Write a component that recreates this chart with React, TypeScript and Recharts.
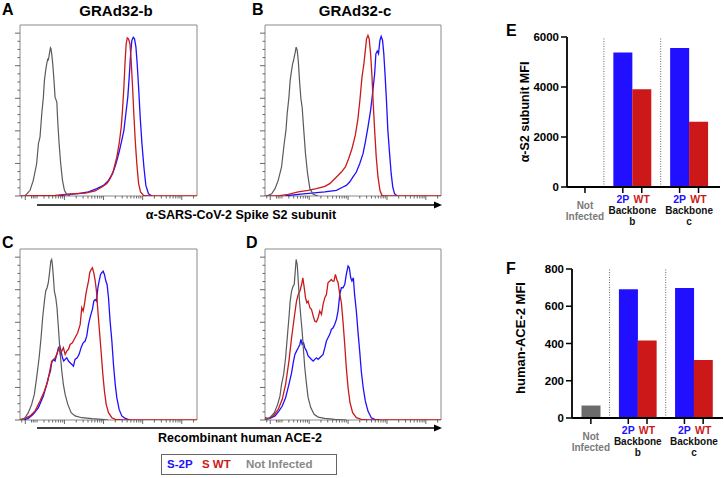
import React from "react";
import {
  LineChart,
  Line,
  XAxis,
  YAxis,
  ReferenceArea,
  ReferenceLine,
  BarChart,
  Bar,
  Cell
} from "recharts";

type Pair = [number, number];

// x = position on the log fluorescence axis (0-100), y = % of max
// A: GRAd32-b, anti-S2
const s2bS2P: Pair[] = [[21.7,0],[27.4,1.0],[33.0,1.4],[38.7,2.5],[43.4,4.5],[47.2,6.5],[50.0,9.6],[52.3,13.7],[54.2,19.8],[56.0,27.0],[57.5,34.2],[58.7,40.3],[59.8,50.5],[60.9,60.7],[61.7,73.0],[62.5,87.3],[63.2,95.5],[64.0,97.5],[64.7,96.5],[65.5,91.4],[66.2,81.2],[67.0,66.9],[67.9,48.5],[68.9,32.1],[70.0,17.8],[71.1,6.5],[72.6,1.4],[74.5,0]];
const s2bSWT: Pair[] = [[0,0],[19.8,0.4],[25.5,1.0],[31.1,1.4],[36.8,1.8],[42.5,3.1],[46.2,5.5],[49.1,7.6],[50.9,10.6],[52.8,15.7],[54.7,23.9],[56.0,32.1],[57.2,42.3],[57.9,52.6],[58.7,66.9],[59.4,83.2],[60.0,93.5],[60.6,97.1],[61.3,96.5],[62.1,93.5],[62.8,83.2],[63.6,66.9],[64.3,50.5],[65.1,34.2],[66.0,19.8],[67.0,7.6],[68.1,2.5],[69.8,0.4],[72.6,0],[100,0]];
const s2bNoInf: Pair[] = [[2.8,0],[5.7,3.5],[7.5,9.6],[9.4,19.8],[10.4,32.1],[11.3,36.2],[12.3,50.5],[13.2,60.7],[13.8,71],[14.5,77.1],[15.1,81.2],[15.7,84.3],[16.0,83.2],[16.6,87.3],[17.2,91],[17.5,90.4],[17.9,87.3],[18.5,81.2],[19.2,71],[19.8,60.7],[20.8,57.7],[21.3,46.4],[22.1,32.1],[23.0,19.8],[24.0,9.6],[25.1,3.5],[26.4,1],[28.3,0]];

// B: GRAd32-c, anti-S2
const s2cS2P: Pair[] = [[11.3,0],[18.9,1.0],[26.4,1.8],[34.0,2.5],[40.6,3.5],[44.3,5.5],[46.2,6.5],[48.1,8.6],[50.0,11.7],[51.9,14.7],[53.8,19.8],[55.7,26.0],[57.0,33.1],[58.5,42.3],[60.0,52.6],[61.1,62.8],[62.3,75.1],[63.0,87.3],[63.8,89.0],[64.5,87.3],[65.3,95.5],[66.0,98.0],[66.8,95.5],[67.5,87.3],[68.3,73.0],[69.1,56.6],[69.8,40.3],[70.8,26.0],[71.7,13.7],[72.6,5.5],[73.6,1.4],[75.1,0]];
const s2cSWT: Pair[] = [[0,0],[7.5,0],[13.2,1.0],[18.9,2.5],[24.5,3.5],[29.2,4.5],[34.0,5.9],[36.8,7.6],[40.6,11.7],[43.4,14.7],[45.7,17.8],[47.5,22.9],[49.4,29.0],[51.3,37.2],[52.8,47.4],[54.0,59.7],[55.1,73.0],[56.2,81.2],[57.0,89.4],[57.7,96.5],[58.5,98.6],[59.2,96.5],[60.0,87.3],[60.8,73.0],[61.5,56.6],[62.3,40.3],[63.2,23.9],[64.2,11.7],[65.3,3.5],[66.4,0.4],[67.9,0],[100,0]];
const s2cNoInf: Pair[] = [[0.9,0],[3.8,1.4],[5.7,4.5],[7.5,9.6],[9.4,17.8],[10.9,32.1],[11.9,40.3],[12.6,50.5],[13.6,60.7],[14.3,71.0],[15.1,77.1],[15.7,81.2],[16.2,83.2],[16.6,85.3],[17.2,88.3],[17.7,91.4],[18.3,89.4],[18.9,83.2],[19.6,71.0],[20.4,59.7],[21.1,54.6],[21.9,42.3],[23.0,26.0],[24.2,13.7],[25.5,4.5],[27.4,1.0],[30.2,0]];

// C: GRAd32-b, recombinant ACE-2
const acebS2P: Pair[] = [[1.9,0],[4.7,1.0],[7.5,3.5],[10.4,7.6],[13.2,14.7],[15.1,21.9],[16.0,26.0],[17.2,30.1],[17.9,35.2],[18.9,37.2],[19.8,36.2],[20.8,40.3],[21.7,44.4],[22.5,45.4],[23.2,42.3],[24.0,38.2],[24.7,36.2],[25.5,37.2],[26.4,38.2],[27.4,36.2],[28.3,35.2],[29.2,34.2],[30.2,33.1],[31.1,37.2],[32.3,38.2],[33.4,40.3],[34.5,44.4],[35.7,47.4],[36.8,48.5],[37.7,51.5],[38.7,58.7],[39.8,63.8],[40.9,67.9],[41.7,73.0],[42.5,74.0],[43.2,73.0],[44.0,81.2],[44.7,85.3],[45.5,89.4],[46.2,90.4],[47.0,91.4],[47.7,89.4],[48.5,85.3],[49.2,83.2],[50.0,75.1],[50.9,60.7],[51.9,48.5],[52.8,34.2],[53.8,21.9],[54.7,13.7],[56.0,6.5],[57.5,2.5],[59.4,1.0],[62.3,0]];
const acebSWT: Pair[] = [[0,0.4],[2.8,1.0],[5.7,2.5],[8.5,5.5],[11.3,11.7],[13.8,17.8],[15.7,23.9],[17.0,31.1],[17.9,36.2],[19.4,37.2],[20.8,40.3],[22.1,44.4],[22.8,40.3],[23.6,42.3],[24.5,44.4],[25.5,40.3],[26.4,42.3],[27.4,43.4],[28.3,46.4],[29.6,47.4],[31.1,50.5],[32.6,53.6],[34.0,58.7],[34.9,68.9],[35.7,66.9],[36.4,71.0],[37.2,77.1],[37.9,81.2],[38.7,85.3],[39.4,90.4],[40.2,92.4],[40.9,93.5],[41.7,90.4],[42.5,85.3],[43.2,79.1],[44.0,66.9],[44.9,54.6],[45.8,42.3],[46.8,28.0],[47.7,17.8],[48.7,9.6],[50.0,4.5],[51.9,1.4],[53.8,0.4],[57.5,0],[100,0]];
const acebNoInf: Pair[] = [[0.9,0],[2.8,1.4],[4.7,4.5],[6.6,9.6],[8.1,15.7],[9.4,26.0],[10.8,38.2],[11.9,50.5],[12.8,62.8],[13.8,73.0],[14.5,79.1],[15.3,81.2],[16.0,84.3],[16.8,91.4],[17.4,97.5],[17.9,98.6],[18.3,95.5],[18.9,87.3],[19.4,79.1],[20.2,75.1],[20.9,68.9],[21.7,56.6],[22.6,42.3],[23.6,30.1],[24.5,21.9],[25.5,15.7],[27.0,9.6],[28.9,4.5],[31.1,2.5],[34.9,1.4],[40.6,0.8],[46.2,0.4],[50.0,0]];

// D: GRAd32-c, recombinant ACE-2
const acecS2P: Pair[] = [[0,0.4],[2.8,1.0],[5.7,2.5],[7.9,5.5],[9.8,8.6],[11.7,13.7],[13.6,21.9],[15.1,29.0],[16.2,36.2],[17.0,40.3],[17.9,42.3],[18.9,44.4],[19.8,46.4],[20.4,49.5],[21.1,46.4],[21.9,47.4],[22.6,44.4],[23.6,42.3],[24.5,39.3],[25.5,38.2],[26.4,37.2],[27.4,36.2],[28.3,37.2],[29.2,38.2],[30.2,37.2],[31.1,38.2],[32.1,39.3],[33.0,40.3],[34.0,44.4],[34.9,48.5],[35.8,50.5],[36.8,52.6],[37.7,55.6],[38.7,56.6],[39.6,58.7],[40.6,61.8],[41.5,66.9],[42.5,77.1],[43.4,81.2],[44.3,81.2],[45.3,83.2],[46.2,89.4],[47.2,94.5],[47.9,93.5],[48.7,87.3],[49.4,85.3],[50.2,87.3],[50.9,77.1],[51.9,66.9],[52.8,54.6],[53.8,42.3],[54.7,30.1],[55.8,19.8],[57.0,11.7],[58.5,5.5],[60.4,1.4],[62.3,0.4],[65.1,0]];
const acecSWT: Pair[] = [[0,1.4],[1.9,1.0],[4.7,2.5],[7.5,6.5],[9.8,12.7],[11.7,21.9],[13.6,36.2],[15.1,50.5],[16.6,62.8],[17.9,73.0],[18.9,77.1],[19.8,79.1],[20.8,83.2],[21.5,87.3],[22.3,81.2],[23.0,75.1],[23.8,72.0],[24.5,73.0],[25.5,68.9],[26.4,67.9],[27.4,63.8],[28.3,60.7],[29.2,60.3],[30.2,62.8],[31.1,66.9],[32.1,64.8],[33.0,71.0],[34.0,75.1],[34.9,77.1],[35.8,84.3],[36.8,85.3],[37.7,86.3],[38.5,85.3],[39.2,85.3],[40.0,89.4],[40.8,86.3],[41.5,84.3],[42.5,77.1],[43.4,72.0],[44.3,60.7],[45.3,46.4],[46.2,32.1],[47.2,19.8],[48.3,10.6],[49.8,4.5],[51.9,1.4],[54.7,0.4],[58.5,0],[100,0]];
const acecNoInf: Pair[] = [[0,0],[2.8,1.4],[5.3,4.5],[7.2,9.6],[8.5,14.7],[9.4,21.9],[10.6,28.0],[11.7,38.2],[12.8,52.6],[13.6,62.8],[14.3,73.0],[15.1,79.1],[16.0,82.2],[16.6,83.2],[17.2,91.4],[17.7,98.6],[18.3,95.5],[18.9,85.3],[19.6,73.0],[20.4,62.8],[21.1,54.6],[21.9,42.3],[22.6,32.1],[23.6,21.9],[24.5,13.7],[26.0,7.6],[27.9,3.5],[30.2,1.8],[34.0,1.0],[39.6,0.4],[46.2,0]];

// histogram axis ticks (unlabelled)
const decadeTicks = [3.0, 25.1, 47.2, 69.3, 91.4];
const nearZeroTicks = [1.0, 6.5, 7.5, 8.5];
const pctTicks = [0, 5, 10, 15, 20, 25, 30, 35, 40, 45, 50, 55, 60, 65, 70, 75, 80, 85, 90, 95, 100];

// E / F bar charts
const barSlots = ["Not Infected", "sep-b", "2P-b", "WT-b", "sep-c", "2P-c", "WT-c"];
const s2Mfi = [15, null, 5380, 3910, null, 5560, 2610];
const ace2Mfi = [67, null, 691, 416, null, 698, 311];
const s2Ticks = [0, 2000, 4000, 6000];
const ace2Ticks = [0, 200, 400, 600, 800];

const BLUE = "#2010ff";
const RED = "#cc1818";
const GRAY = "#5a5a5a";
const FONT = "'Liberation Sans', Arial, sans-serif";

const minorTicks = decadeTicks.flatMap((d) =>
  [2, 3, 4, 5, 6, 7, 8, 9].map((k) => +(d + 22.1 * Math.log10(k)).toFixed(2))
).filter((v) => v < 100);
const histXTicks = [...nearZeroTicks, ...decadeTicks, ...minorTicks].sort((a, b) => a - b);

const pts = (p: Pair[]) => p.map(([x, y]) => ({ x, y }));

function HistXTick(props: any) {
  const { x, y, payload } = props;
  const len = decadeTicks.includes(payload.value) ? 4 : 2.5;
  return <line x1={x} y1={y} x2={x} y2={y + len} stroke="#444" strokeWidth={0.8} />;
}

function HistYTick(props: any) {
  const { x, y, payload } = props;
  const len = payload.value % 20 === 0 ? 5 : 2.5;
  return <line x1={x} y1={y} x2={x - len} y2={y} stroke="#444" strokeWidth={0.8} />;
}

function Histogram({ left, top, width, s2p, swt, noInf }: { left: number; top: number; width: number; s2p: Pair[]; swt: Pair[]; noInf: Pair[] }) {
  return (
    <div style={{ position: "absolute", left: left - 15, top: top - 5 }}>
      <LineChart width={width + 23} height={185} margin={{ top: 5, right: 8, bottom: 4, left: 5 }}>
        <XAxis type="number" dataKey="x" domain={[0, 100]} ticks={histXTicks} interval={0}
          tickSize={0} tickMargin={0} tickLine={false} axisLine={false} height={5} tick={HistXTick} allowDataOverflow />
        <YAxis type="number" dataKey="y" domain={[0, 105]} ticks={pctTicks} interval={0}
          tickSize={0} tickMargin={0} tickLine={false} axisLine={false} width={10} tick={HistYTick} allowDataOverflow />
        <ReferenceArea x1={0} x2={100} y1={0} y2={105} fill="none" stroke="#8a8a8a" strokeWidth={1} />
        <Line data={pts(s2p)} dataKey="y" type="linear" stroke={BLUE} strokeWidth={1.3} dot={false} isAnimationActive={false} />
        <Line data={pts(swt)} dataKey="y" type="linear" stroke={RED} strokeWidth={1.3} dot={false} isAnimationActive={false} />
        <Line data={pts(noInf)} dataKey="y" type="linear" stroke={GRAY} strokeWidth={1.2} dot={false} isAnimationActive={false} />
      </LineChart>
    </div>
  );
}

const bold = { fontFamily: FONT, fontWeight: 700 } as const;

function BarTick(props: any) {
  const { x, y, index } = props;
  const mark = <line x1={x} y1={y} x2={x} y2={y + 6} stroke="#000" strokeWidth={1.5} />;
  if (index === 0) {
    return (
      <g>
        {mark}
        <text x={x} y={y + 18} textAnchor="middle" dominantBaseline="central" fontSize={10} fill="#7a7a7a" style={bold}>Not</text>
        <text x={x} y={y + 29.5} textAnchor="middle" dominantBaseline="central" fontSize={10} fill="#7a7a7a" style={bold}>Infected</text>
      </g>
    );
  }
  if (index === 2 || index === 5) {
    const backbone = index === 2 ? "b" : "c";
    return (
      <g>
        {mark}
        <text x={x} y={y + 12} textAnchor="middle" dominantBaseline="central" fontSize={10.5} fill={BLUE} style={bold}>2P</text>
        <text x={x + 9.5} y={y + 23} textAnchor="middle" dominantBaseline="central" fontSize={10} fill="#111" style={bold}>Backbone</text>
        <text x={x + 9.5} y={y + 34} textAnchor="middle" dominantBaseline="central" fontSize={10} fill="#111" style={bold}>{backbone}</text>
      </g>
    );
  }
  if (index === 3 || index === 6) {
    return (
      <g>
        {mark}
        <text x={x} y={y + 12} textAnchor="middle" dominantBaseline="central" fontSize={10.5} fill={RED} style={bold}>WT</text>
      </g>
    );
  }
  return <g />;
}

function MfiYTick(props: any) {
  const { x, y, payload } = props;
  return (
    <text x={x} y={y} textAnchor="end" dominantBaseline="central" fontSize={11.5} fill="#000" style={bold}>
      {payload.value}
    </text>
  );
}

const slotColors = ["#6b6b6b", "none", BLUE, RED, "none", BLUE, RED];

function MfiBars({ left, top, height, values, ticks, max, yWidth, marginTop, marginRight, xHeight, padding }: any) {
  const data = barSlots.map((slot, i) => ({ slot, value: values[i] }));
  return (
    <div style={{ position: "absolute", left, top }}>
      <BarChart width={224} height={height} data={data} barCategoryGap={0} barGap={0}
        margin={{ top: marginTop, right: marginRight, bottom: 3, left: 0 }}>
        <XAxis dataKey="slot" type="category" interval={0} padding={padding} height={xHeight}
          tickLine={false} tickSize={0} tickMargin={0} tick={BarTick}
          axisLine={{ stroke: "#000", strokeWidth: 1.8 }} />
        <YAxis type="number" domain={[0, max]} ticks={ticks} interval={0} width={yWidth}
          tickSize={6} tickMargin={2} tickLine={{ stroke: "#000", strokeWidth: 1.5 }}
          axisLine={{ stroke: "#000", strokeWidth: 1.8 }} tick={MfiYTick} />
        <ReferenceLine x="sep-b" stroke="#666" strokeDasharray="1 1.5" />
        <ReferenceLine x="sep-c" stroke="#666" strokeDasharray="1 1.5" />
        <Bar dataKey="value" isAnimationActive={false}>
          {data.map((d, i) => <Cell key={d.slot} fill={slotColors[i]} />)}
        </Bar>
      </BarChart>
    </div>
  );
}

function Txt({ x, y, size, color = "#000", anchor = "middle", rotate = 0, children }: any) {
  const tx = anchor === "middle" ? "-50%" : anchor === "end" ? "-100%" : "0";
  return (
    <div style={{
      position: "absolute", left: x, top: y, whiteSpace: "nowrap", lineHeight: 1,
      fontFamily: FONT, fontWeight: 700, fontSize: size, color,
      transform: `translate(${tx}, -50%) rotate(${rotate}deg)`,
      transformOrigin: anchor === "middle" ? "center" : "left center"
    }}>{children}</div>
  );
}

function Arrow({ y }: { y: number }) {
  return (
    <svg style={{ position: "absolute", left: 36, top: y - 5 }} width={410} height={10}>
      <line x1={1} y1={5} x2={400} y2={5} stroke="#000" strokeWidth={1.5} />
      <polygon points="398,1.5 406,5 398,8.5" fill="#000" />
    </svg>
  );
}

export default function App() {
  return (
    <div style={{ position: "relative", width: 724, height: 478, background: "#fff", overflow: "hidden" }}>
      <style>{"body{margin:0}"}</style>

      <Txt x={2} y={9.5} size={16} anchor="start">A</Txt>
      <Txt x={116} y={9.5} size={15}>GRAd32-b</Txt>
      <Txt x={252} y={9.5} size={16} anchor="start">B</Txt>
      <Txt x={355} y={9.5} size={15}>GRAd32-c</Txt>
      <Txt x={2} y={243} size={16} anchor="start">C</Txt>
      <Txt x={246} y={243} size={16} anchor="start">D</Txt>
      <Txt x={506} y={31} size={16} anchor="start">E</Txt>
      <Txt x={506} y={269} size={16} anchor="start">F</Txt>

      <Histogram left={20} top={25} width={177} s2p={s2bS2P} swt={s2bSWT} noInf={s2bNoInf} />
      <Histogram left={265} top={25} width={176} s2p={s2cS2P} swt={s2cSWT} noInf={s2cNoInf} />
      <Histogram left={20} top={249} width={177} s2p={acebS2P} swt={acebSWT} noInf={acebNoInf} />
      <Histogram left={265} top={249} width={176} s2p={acecS2P} swt={acecSWT} noInf={acecNoInf} />

      <Arrow y={205} />
      <Txt x={241} y={215} size={12.5}>α-SARS-CoV-2 Spike S2 subunit</Txt>
      <Arrow y={428} />
      <Txt x={240} y={437.5} size={12.5}>Recombinant human ACE-2</Txt>

      <div style={{ position: "absolute", left: 161, top: 454, width: 176, height: 21, border: "1px solid #666", boxSizing: "border-box" }} />
      <Txt x={167} y={465} size={11.5} color={BLUE} anchor="start">S-2P</Txt>
      <Txt x={202} y={465} size={11.5} color={RED} anchor="start">S WT</Txt>
      <Txt x={246} y={465} size={11.5} color="#888" anchor="start">Not Infected</Txt>

      <MfiBars left={500} top={20} height={210} values={s2Mfi} ticks={s2Ticks} max={6000}
        yWidth={67} marginTop={17} marginRight={4} xHeight={40} padding={{ left: 8.5, right: 12 }} />
      <Txt x={525} y={112} size={12.5} rotate={-90}>α-S2 subunit MFI</Txt>

      <MfiBars left={500} top={260} height={218} values={ace2Mfi} ticks={ace2Ticks} max={800}
        yWidth={72} marginTop={9} marginRight={1} xHeight={57} padding={{ left: 9.5, right: 10.5 }} />
      <Txt x={520} y={338} size={13} rotate={-90}>human-ACE-2 MFI</Txt>
    </div>
  );
}
